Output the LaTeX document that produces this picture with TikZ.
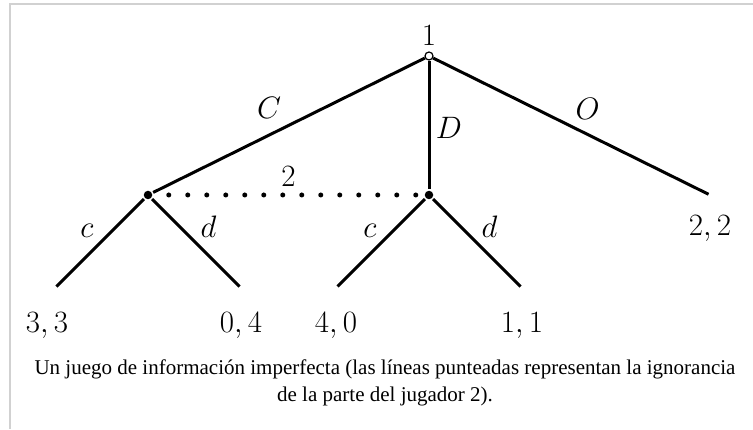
\RequirePackage{fix-cm}
\documentclass[tikz,border=0pt]{standalone}
\usepackage[no-math]{fontspec}
\newfontfamily\capfont{Liberation Serif}

\tikzstyle{move} = [circle, draw, fill=white, line width=1.2pt, minimum size=8pt, inner sep=0pt]
\tikzstyle{dot} = [circle, fill, minimum size=8.5pt, inner sep=0pt]
\tikzstyle{leaf} = [inner sep=0pt, minimum size=0pt]
\tikzstyle{info} = [line width=5pt, line cap=round, dash pattern=on 0pt off 19pt]

\begin{document}
\begin{tikzpicture}[x=1pt, y=1pt, grow=down, line width=3pt,
    font=\fontsize{31}{37}\selectfont,
    level 1/.style={sibling distance=281pt, level distance=139pt},
    level 2/.style={sibling distance=186pt, level distance=93pt}]
\useasboundingbox (0,0) rectangle (753,429);
\draw[black!18, line width=1.4pt] (753,425) -- (10,425) -- (10,0);

\node[move, label={[label distance=1pt]above:$1$}] (root) at (429,373) {}
    child {
        node[dot] (p2l) {}
           child {
                node[leaf, label={[label distance=18pt, xshift=-8pt]below:$3,3$}] (l1) {}
                edge from parent
                node[above left, xshift=-2pt] {$c$}
                            }
           child {
                node[leaf, label={[label distance=18pt]below:$0,4$}] (l2) {}
                edge from parent
                node[above right] {$d$}
                            }
           edge from parent
           node[above left, xshift=-3pt, yshift=2pt] {$C$}
    }
    child {
        node[dot] (p2r) {}
           child {
                node[leaf, label={[label distance=18pt]below:$4,0$}] (l3) {}
                edge from parent
                node[above left] {$c$}
                            }
           child {
                node[leaf, label={[label distance=18pt]below:$1,1$}] (l4) {}
                edge from parent
                node[above right] {$d$}
                            }
           edge from parent
           node[right, xshift=2pt, yshift=-3pt] {$D$}
    }
    child {
        node[leaf, label={[label distance=14pt]below:$2,2$}] (l5) {}
        edge from parent
        node[above right, yshift=2pt] {$O$}
    };

% information set of player 2
\draw[info, shorten <=15pt, shorten >=5pt] (p2l) -- node[above=3pt] {$2$} (p2r);

\node[font=\capfont\fontsize{21}{27}\selectfont, align=center] (cap) at (385,46)
    {Un juego de información imperfecta (las líneas punteadas representan la ignorancia\\
     de la parte del jugador 2).};
\end{tikzpicture}
\end{document}
